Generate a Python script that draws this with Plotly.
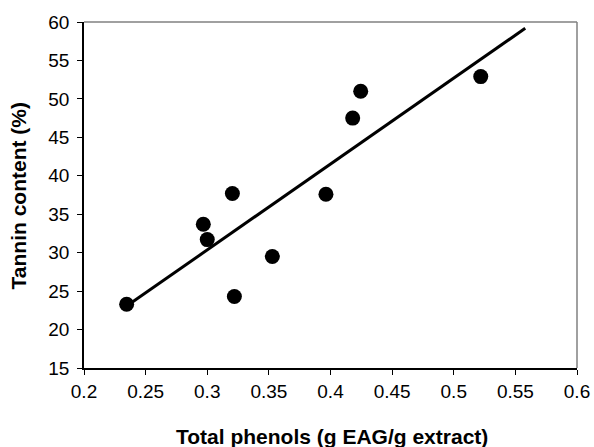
import numpy as np
import plotly.graph_objects as go

# Data
total_phenols = [0.2346, 0.2968, 0.3000, 0.3204, 0.3220, 0.3528, 0.3963, 0.4180, 0.4245, 0.5219]
tannin_content = [23.3, 33.7, 31.7, 37.7, 24.3, 29.5, 37.6, 47.5, 51.0, 52.9]
trend_x_end = 0.558  # linear trendline forecast end

x_tick_vals = [0.2, 0.25, 0.3, 0.35, 0.4, 0.45, 0.5, 0.55, 0.6]
x_tick_text = ["0.2", "0.25", "0.3", "0.35", "0.4", "0.45", "0.5", "0.55", "0.6"]
y_tick_vals = [15, 20, 25, 30, 35, 40, 45, 50, 55, 60]

slope, intercept = np.polyfit(total_phenols, tannin_content, 1)
trend_x = [min(total_phenols), trend_x_end]
trend_y = [slope * v + intercept for v in trend_x]

fig = go.Figure()
fig.add_trace(go.Scatter(x=trend_x, y=trend_y, mode="lines",
                         line=dict(color="black", width=3), showlegend=False))
fig.add_trace(go.Scatter(x=total_phenols, y=tannin_content, mode="markers",
                         marker=dict(color="black", size=15), showlegend=False))

font = "Liberation Sans, Arial, sans-serif"
fig.update_layout(
    width=594, height=447,
    margin=dict(l=84, r=17, t=22, b=79),
    paper_bgcolor="white", plot_bgcolor="white",
    font=dict(family=font, color="black", size=19),
    xaxis=dict(range=[0.2, 0.6], tickvals=x_tick_vals, ticktext=x_tick_text,
               showgrid=False, zeroline=False, showline=True, linecolor="black",
               linewidth=1.5, ticks="outside", ticklen=5, tickcolor="black",
               tickfont=dict(size=19), automargin=False, ticklabeloverflow="allow"),
    yaxis=dict(range=[15, 60], tickvals=y_tick_vals,
               showgrid=False, zeroline=False, showline=True, linecolor="black",
               linewidth=1.5, ticks="outside", ticklen=5, tickcolor="black",
               tickfont=dict(size=19), automargin=False, ticklabelstandoff=4),
    shapes=[
        dict(type="line", xref="paper", yref="paper", x0=0, x1=1, y0=1, y1=1,
             line=dict(color="#808080", width=1.5)),
        dict(type="line", xref="paper", yref="paper", x0=1, x1=1, y0=0, y1=1,
             line=dict(color="#808080", width=1.5)),
    ],
    annotations=[
        dict(text="<b>Total phenols (g EAG/g extract)</b>", xref="paper", yref="paper",
             x=0.503, y=-0.199, xanchor="center", yanchor="middle", showarrow=False,
             font=dict(size=21)),
        dict(text="<b>Tannin content (%)</b>", xref="paper", yref="paper",
             x=-0.133, y=0.497, xanchor="center", yanchor="middle", showarrow=False,
             textangle=-90, font=dict(size=21)),
    ],
)

fig.write_html("out.html", config={"displayModeBar": False},
               post_script="document.body.style.margin='0';document.body.style.overflow='hidden';")
